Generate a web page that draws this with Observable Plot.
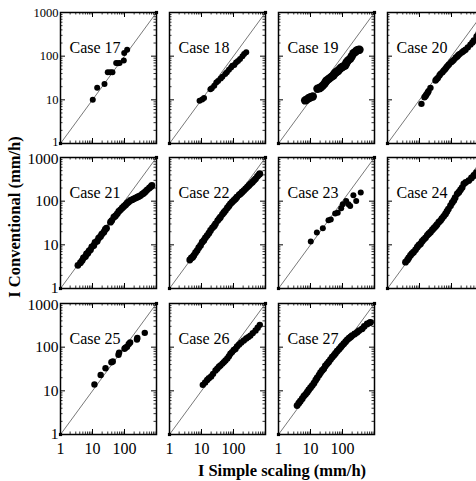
<!DOCTYPE html>
<html><head><meta charset="utf-8">
<script src="https://cdn.jsdelivr.net/npm/d3@7"></script>
<script src="https://cdn.jsdelivr.net/npm/@observablehq/plot@0.6"></script>
<style>
html,body{margin:0;padding:0;background:#fff;overflow:hidden;}
#fig{position:relative;width:476px;height:481px;overflow:hidden;font-family:"Liberation Serif","Times New Roman",serif;color:#000;}
#fig svg, #fig svg text{font-family:"Liberation Serif","Times New Roman",serif !important;}
.panel{position:absolute;}
.ytitle{position:absolute;left:15px;top:217px;transform:translate(-50%,-50%) rotate(-90deg);font-weight:bold;font-size:16.5px;white-space:nowrap;line-height:1;}
.xtitle{position:absolute;left:282px;top:471px;transform:translate(-50%,-50%);font-weight:bold;font-size:16.5px;white-space:nowrap;line-height:1;}
</style></head>
<body><div id="fig"></div>
<script>
const caseNames = ["Case 17","Case 18","Case 19","Case 20","Case 21","Case 22","Case 23","Case 24","Case 25","Case 26","Case 27"];
const majorTicks = [1, 10, 100, 1000];
const minorTicks = [2,3,4,5,6,7,8,9,20,30,40,50,60,70,80,90,200,300,400,500,600,700,800,900];
const xTickLabels = [1, 10, 100];
const yTickLabels = [1, 10, 100, 1000];
const diagonal = [1, 1000];

const c17 = [[10.2,10],[14,18.8],[23.7,23],[30,43],[36,43],[42,43],[55,70],[62,69],[70,70],[95,80],[98,118],[121,140]];
const c18 = [[8.7,9.5],[10.5,10.2],[12,11],[19,17.5],[21,18.5],[25,21],[29,25],[33,27],[40,31],[45,34],[55,39],[62,43],[72,49],[84,55],[92,60],[106,63],[120,72],[138,77],[160,86],[190,100],[215,112],[250,123]];
const c19 = [[6.8,9.7],[7.5,10],[8.7,10.9],[10,11.5],[11.8,11.9],[16.5,17.9],[19,18.5],[21,19.5],[24,21],[27.4,23.3],[30,26],[32,27.7],[37,30],[41,31.8],[46,34],[52,36],[57,40],[63,43],[70,45],[75,47],[85,52],[95,56],[105,58],[121,61],[130,68],[136,73],[150,80],[174,87],[195,100],[220,117],[250,125],[280,135],[310,138],[340,140]];
const c20 = [[11.5,8.1],[14.3,11.5],[15.5,12.3],[16.5,13.2],[18,14.5],[19.1,15.8],[22,18.8],[31.6,27.7],[34,29.5],[37.4,31.8],[42,36],[45.4,39.4],[52,43],[57.6,46.9],[64,51],[69.7,55.7],[76,60],[83,64.4],[97.6,72.8],[108,78],[118,82.4],[135,92],[151,98],[165,106],[182,113],[215,123],[240,132],[274,140],[324,159],[391,184],[450,205],[500,228],[606,283],[700,330]];
const c21 = [[3.5,3.4],[4.2,3.9],[4.75,4.37],[5.2,5.0],[6.03,5.4],[6.5,6.2],[7.15,6.44],[7.8,7.3],[8.66,7.68],[9.5,9.0],[11,9.66],[12,11.3],[14,12.1],[15.5,14.2],[17.8,15.5],[19.5,17.5],[22.6,19.5],[25,22.5],[27.4,24],[36.5,33],[40,36],[46.4,43],[52,46],[59,51.3],[66,58],[75,63.3],[85,70],[95,75.5],[108,82],[121,89.9],[135,96],[154,104],[175,108],[196,113],[220,118],[250,123],[280,128],[316,134],[360,145],[400,152],[450,165],[512,182],[600,200],[681,217],[720,229]];
const c22 = [[4.3,4.5],[4.8,5.0],[5.3,5.2],[5.76,5.7],[6.5,6.6],[7.3,7.4],[8.2,8.6],[9.3,9.66],[10.5,11.5],[11.8,12.6],[13.2,14.5],[15,16.3],[17,18.5],[19.1,21.3],[22,24.5],[25,27],[27.4,30.2],[32,36],[36,40],[39,43],[45,50],[50,55],[56,61],[64,70],[72,78],[80,87],[90,95],[102,104],[115,112],[127,123],[150,140],[165,147],[185,160],[210,175],[238,192],[270,210],[304,229],[340,250],[389,271],[440,300],[490,325],[560,370],[631,407],[664,424]];
const c23 = [[10.2,11.9],[15.8,19.2],[24.3,24],[36.5,36.7],[43,38],[59,52],[71,54],[91,69],[102,85],[130,101],[154,85],[174,78],[219,137],[268,101],[372,158]];
const c24 = [[3.65,4.0],[4.2,4.5],[4.6,5.0],[5.2,5.7],[5.8,6.3],[6.5,6.8],[7.5,7.7],[8.5,8.8],[9.5,9.8],[10.7,10.5],[12,12],[13.5,13.2],[15.4,14.5],[17.5,16.5],[19.5,18],[22,19.5],[25,22],[28,24],[31.6,26.3],[35,29],[40,33],[45.4,36],[50,40],[57,45],[65,51],[72,58],[80,66],[93,79],[105,92],[118,104],[130,120],[151,147],[170,160],[191,182],[215,205],[243,250],[280,270],[348,296],[420,340],[500,387],[600,450]];
const c25 = [[11.5,14],[18,23],[25.5,33],[39,45],[43,47],[65,67],[68,75],[100,92],[107,97],[120,102],[136,118],[150,128],[245,150],[252,162],[430,213]];
const c26 = [[11,13.7],[13,15.5],[15,17.8],[17,19.5],[20,21.3],[23,24.5],[27.4,29.3],[31,32],[35,35.5],[39,38],[45,42],[50,45.5],[56,49.4],[64,55],[72,62],[80,70.6],[90,77],[102,86],[115,91],[129,104],[150,115],[175,128],[210,142],[250,158],[290,170],[336,184],[400,210],[490,240],[570,280],[664,324]];
const c27 = [[3.8,4.6],[4.3,5.2],[4.8,5.8],[5.5,6.6],[6.2,7.6],[7.0,8.3],[7.9,9.3],[8.8,10.5],[10,11.8],[11.3,13.2],[12.8,15],[14.5,17.5],[16.1,19.8],[18.5,23],[20.5,26],[23.2,29.3],[26,32],[29,37],[33,41.5],[37,46],[42,52],[47.6,59],[54,65],[60,72],[68,81],[78,90],[88,100],[97,109],[110,120],[125,133],[140,147],[160,160],[180,172],[200,184],[240,200],[287,219],[330,240],[410,263],[480,300],[590,340],[700,360],[750,370]];

const caseData = [c17,c18,c19,c20,c21,c22,c23,c24,c25,c26,c27];
const dotRadius = [3,3,4.2,3.2,3.4,3.4,3,3.4,3.2,3.2,3.4];

const colLeft = [60, 169, 278, 387];
const rowTop = [12, 157, 303];
const W = 96, H = 131;
const FONT = '"Liberation Serif","Times New Roman",serif';
const fig = document.getElementById("fig");

function yLabels(ticks, fontSize, dy) {
  return Plot.axisY({ticks, anchor: "left", tickSize: 0, tickPadding: 2, fontSize, fontFamily: FONT, dy, tickFormat: d => String(d), label: null, fill: "black"});
}

caseNames.forEach((name, i) => {
  const col = i % 4, row = Math.floor(i / 4);
  const data = caseData[i];
  const marks = [
    Plot.ruleX(minorTicks, {x: d => d, insetTop: H - 2.5, stroke: "black", strokeWidth: 0.8}),
    Plot.ruleX(minorTicks, {x: d => d, insetBottom: H - 2.5, stroke: "black", strokeWidth: 0.8}),
    Plot.ruleX(majorTicks, {x: d => d, insetTop: H - 5, stroke: "black", strokeWidth: 1}),
    Plot.ruleX(majorTicks, {x: d => d, insetBottom: H - 5, stroke: "black", strokeWidth: 1}),
    Plot.ruleY(minorTicks, {y: d => d, insetRight: W - 2.5, stroke: "black", strokeWidth: 0.8}),
    Plot.ruleY(minorTicks, {y: d => d, insetLeft: W - 2.5, stroke: "black", strokeWidth: 0.8}),
    Plot.ruleY(majorTicks, {y: d => d, insetRight: W - 5, stroke: "black", strokeWidth: 1}),
    Plot.ruleY(majorTicks, {y: d => d, insetLeft: W - 5, stroke: "black", strokeWidth: 1}),
    Plot.line(diagonal, {x: d => d, y: d => d, stroke: "#555", strokeWidth: 0.8}),
    Plot.dot(diagonal, {x: d => d, y: d => d, r: 1.8, fill: "black", stroke: null, symbol: "square"}),
    Plot.dot(data, {x: d => d[0], y: d => d[1], r: dotRadius[i], fill: "black", stroke: null}),
    Plot.frame({stroke: "black", strokeWidth: 1.5}),
    Plot.text([name], {frameAnchor: "top-left", dx: 9, dy: 40, text: d => d, textAnchor: "start", lineAnchor: "bottom", fontSize: 16, fontFamily: FONT, fill: "black"})
  ];
  if (col === 0) {
    if (row === 0) {
      marks.push(yLabels(yTickLabels.slice(1), 12.5, 0));
      marks.push(yLabels(yTickLabels.slice(0, 1), 12.5, -2));
    } else {
      marks.push(yLabels(yTickLabels.slice(0, 3), 15.5, 0));
      marks.push(yLabels(yTickLabels.slice(3), 15.5, 2));
    }
  }
  const hasBelow = i + 4 < caseNames.length;
  if (!hasBelow && row === 2) {
    marks.push(Plot.axisX({ticks: xTickLabels, anchor: "bottom", tickSize: 0, tickPadding: 8, fontSize: 16, fontFamily: FONT, tickFormat: d => String(d), label: null, fill: "black"}));
  }
  const chart = Plot.plot({
    width: W, height: H, margin: 0,
    style: {overflow: "visible", maxWidth: "none", background: "transparent", fontFamily: FONT, color: "black"},
    x: {type: "log", domain: [1, 1000], axis: null},
    y: {type: "log", domain: [1, 1000], axis: null},
    marks
  });
  const div = document.createElement("div");
  div.className = "panel";
  div.style.left = colLeft[col] + "px";
  div.style.top = rowTop[row] + "px";
  div.appendChild(chart);
  fig.appendChild(div);
});

const yt = document.createElement("div");
yt.className = "ytitle";
yt.textContent = "I Conventional (mm/h)";
fig.appendChild(yt);
const xt = document.createElement("div");
xt.className = "xtitle";
xt.textContent = "I Simple scaling (mm/h)";
fig.appendChild(xt);
</script>
</body></html>
